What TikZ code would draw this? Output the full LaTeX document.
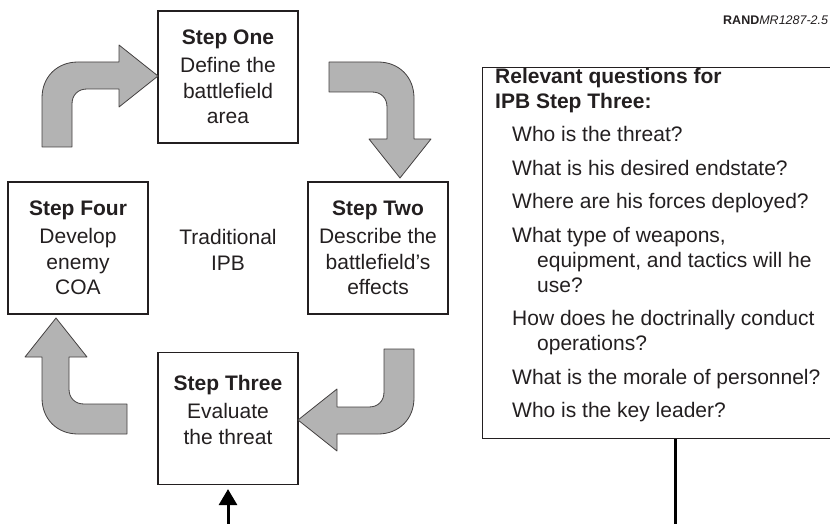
\documentclass[tikz,border=0pt]{standalone}
\usepackage{fontspec}
\setmainfont{Liberation Sans}
\usetikzlibrary{arrows.meta,calc}
\definecolor{txt}{HTML}{231F20}
\definecolor{arrowgray}{HTML}{B3B3B3}
\begin{document}
\begin{tikzpicture}[x=1pt,y=-1pt,
  stepbox/.style={draw=txt,line width=1.2pt,minimum width=140pt,minimum height=132pt,
    inner sep=0pt,align=center,text=txt,font=\fontsize{21}{25.5}\selectfont},
  bent/.style={fill=arrowgray,draw=txt!85,line width=0.8pt,line join=round},
  conn/.style={line width=3pt,draw=black,-{Triangle[width=18pt,length=16pt]},shorten >=4pt},
  plain/.style={text=txt,inner sep=0pt,font=\fontsize{21}{25.5}\selectfont}]
\useasboundingbox (0,0) rectangle (830,524);
\clip (0,0) rectangle (830,524);

% step boxes
\node[stepbox] (s1) at (228,77) {\textbf{Step One}\\[3pt]Define the\\battlefield\\area};
\node[stepbox] (s2) at (378,248) {\textbf{Step Two}\\[3pt]Describe the\\battlefield’s\\effects};
\node[stepbox] (s3) at (228,418.5) {\textbf{Step Three}\\[3pt]Evaluate\\the threat\\[-8pt]\mbox{}};
\node[stepbox] (s4) at (78,248) {\textbf{Step Four}\\[3pt]Develop\\enemy\\COA};
\node[plain,align=center] (trad) at (228,250) {Traditional\\IPB};

% bent gray arrows
\foreach \r in {0,-90,180,90}{
  \begin{scope}[shift={(228,248)},rotate=\r]
    \draw[bent] (-186,-101) -- (-156,-101) -- (-156,-144)
      .. controls (-156,-153) and (-150,-159) .. (-141,-159)
      -- (-109,-159) -- (-109,-141) -- (-70,-172) -- (-109,-203) -- (-109,-186)
      -- (-150,-186) .. controls (-171,-186) and (-186,-171) .. (-186,-150) -- cycle;
  \end{scope}
}

% questions box
\node[draw=txt,line width=1.2pt,minimum width=400pt,minimum height=371pt,
  anchor=north west,inner sep=0pt] (qbox) at (482,67) {};
\node[plain,align=left,anchor=base west,font=\fontsize{21}{25}\selectfont] (qtext) at (495,417.5) {%
\textbf{Relevant questions for}\\
\textbf{IPB Step Three:}\\[8.5pt]
\hspace*{17pt}Who is the threat?\\[8.5pt]
\hspace*{17pt}What is his desired endstate?\\[8.5pt]
\hspace*{17pt}Where are his forces deployed?\\[8.5pt]
\hspace*{17pt}What type of weapons,\\
\hspace*{42pt}equipment, and tactics will he\\
\hspace*{42pt}use?\\[8.5pt]
\hspace*{17pt}How does he doctrinally conduct\\
\hspace*{42pt}operations?\\[8.5pt]
\hspace*{17pt}What is the morale of personnel?\\[8.5pt]
\hspace*{17pt}Who is the key leader?};

\node[anchor=base west,inner sep=0pt,text=txt,font=\fontsize{12.5}{14}\selectfont] (rand) at (723,25)
  {\textbf{RAND}\textit{MR1287-2.5}};

% connector
\coordinate (qx) at ($(qbox.south west)+(193,0)$);
\draw[conn] (qx) -- ++(0,100) -| (s3.south);
\end{tikzpicture}
\end{document}
